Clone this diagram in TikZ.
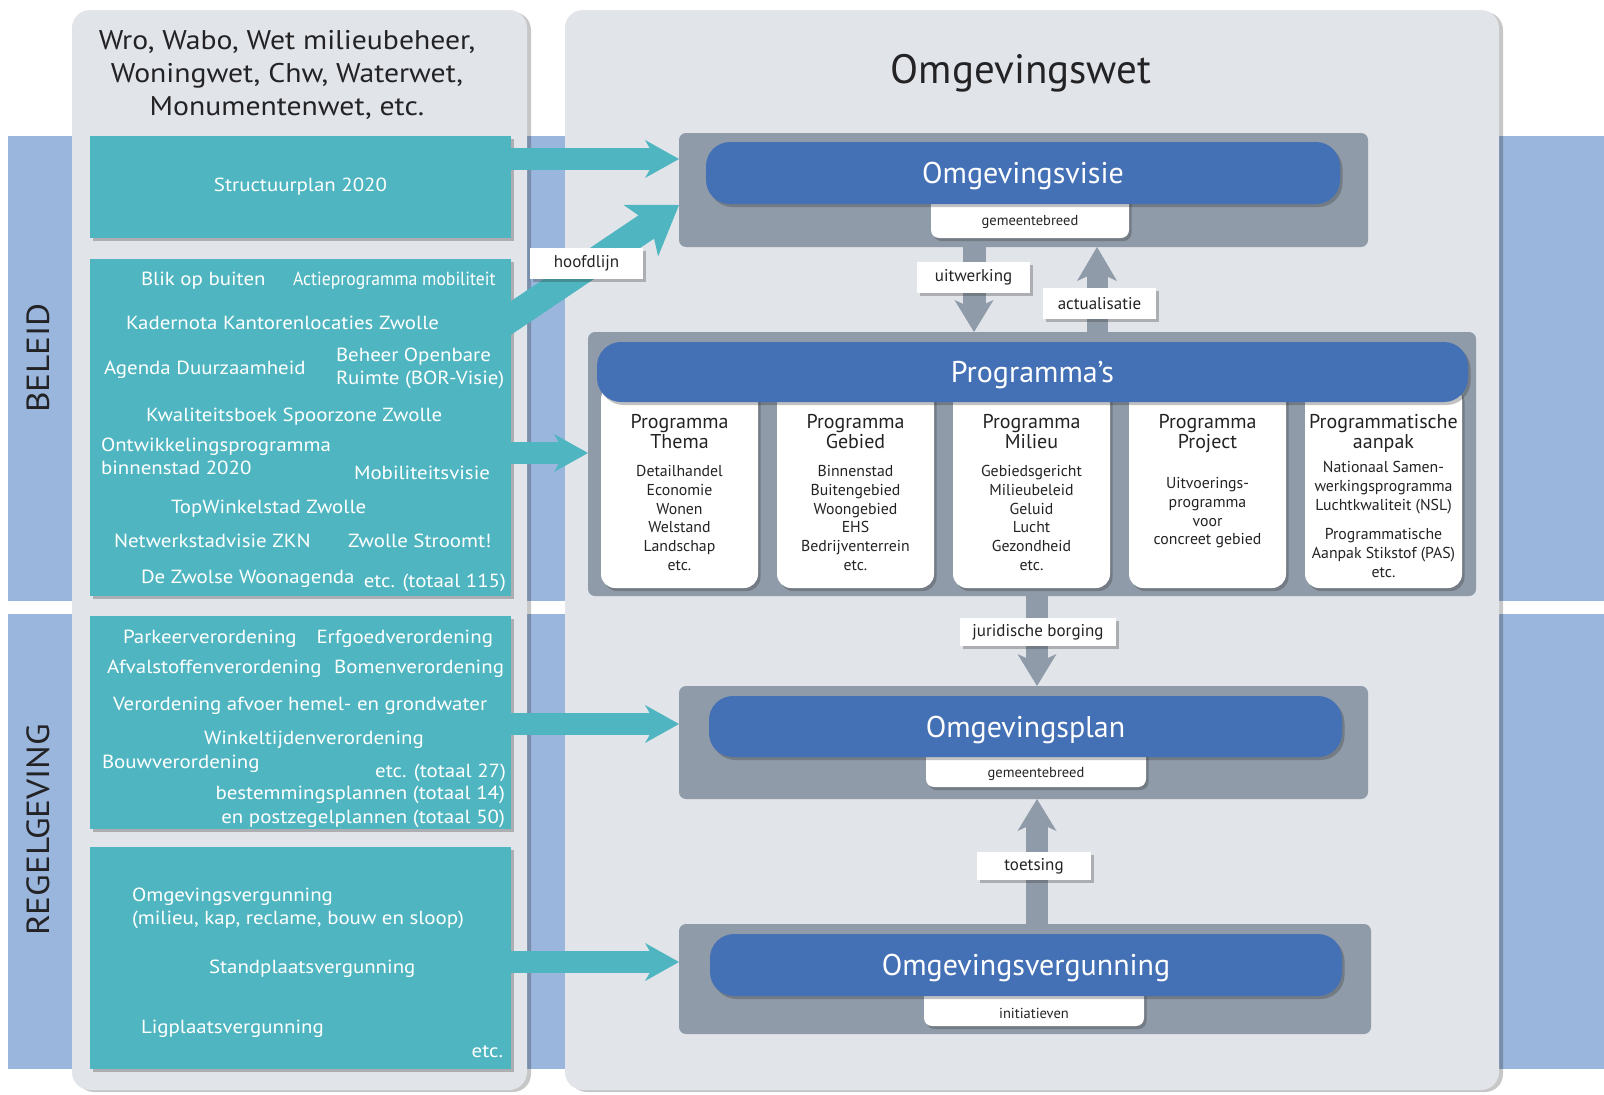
\documentclass[tikz,border=0pt]{standalone}
\usepackage{fontspec}
\setmainfont{PT Sans}
\newfontfamily\widefont{PT Sans}[FakeStretch=1.1]
\usepackage{graphicx}
\usetikzlibrary{arrows.meta,shadows,calc}
\definecolor{bandblue}{RGB}{155,182,220}
\definecolor{panelgrey}{RGB}{225,228,233}
\definecolor{tealc}{RGB}{79,182,193}
\definecolor{boxgrey}{RGB}{143,155,168}
\definecolor{barblue}{RGB}{68,112,181}
\definecolor{txtdark}{RGB}{35,35,38}
\newcommand\fz[2]{\fontsize{#1}{#2}\selectfont}
\begin{document}
\begin{tikzpicture}[x=1pt,y=-1pt,
  every node/.style={inner sep=0pt,outer sep=0pt},
  shd/.style={drop shadow={shadow xshift=2.5pt,shadow yshift=-3pt,opacity=0.3,fill=black!80}},
  panel/.style={fill=panelgrey,rounded corners=18pt,drop shadow={shadow xshift=4pt,shadow yshift=-2pt,opacity=0.22,fill=black}},
  tealbox/.style={fill=tealc,shd},
  greybox/.style={fill=boxgrey,rounded corners=7pt},
  bar/.style={fill=barblue,rounded corners=24pt,shd,text=white,font=\fz{30}{36},text height=21pt,text depth=0pt},
  tab/.style={fill=white,rounded corners=8pt,shd},
  card/.style={fill=white,rounded corners=14pt,shd},
  lbl/.style={fill=white,shd,font=\fz{17}{20},text=txtdark},
  ttxt/.style={text=white,font=\widefont\fz{19}{23}},
  ctitle/.style={text=txtdark,font=\fz{20}{20},align=center,anchor=north},
  cbody/.style={text=txtdark,font=\fz{15.8}{18.7},align=center,anchor=north},
  tabtxt/.style={text=txtdark,font=\fz{14.5}{16}},
  tarrow/.style={draw=tealc,line width=22pt,-{Stealth[length=34pt,width=38pt,inset=11pt,line width=0pt]}},
  garrow/.style={draw=boxgrey,line width=22pt,-{Stealth[length=32pt,width=39pt,inset=9pt,line width=0pt]}},
  bandlbl/.style={text=txtdark,font=\widefont\fz{32}{36},rotate=90}
]
\useasboundingbox (0,0) rectangle (1604,1095);
\fill[white] (0,0) rectangle (1604,1095);
% bands
\fill[bandblue] (8,136) rectangle (1604,601);
\fill[bandblue] (8,614) rectangle (1604,1069);
\node[bandlbl] (beleid) at (38,358) {BELEID};
\node[bandlbl] (regel) at (38,830) {REGELGEVING};
% panels
\node[panel,minimum width=455pt,minimum height=1080pt] (lpanel) at (299.5,550) {};
\node[panel,minimum width=934pt,minimum height=1080pt] (rpanel) at (1032,550) {};
% left title
\node[anchor=north,align=center,font=\widefont\fz{27}{33},text=txtdark] (lawtitle) at (287,30) {Wro, Wabo, Wet milieubeheer,\\Woningwet, Chw, Waterwet,\\Monumentenwet, etc.};
% teal boxes
\node[tealbox,minimum width=421pt,minimum height=102pt,text=white,font=\widefont\fz{19}{23}] (boxA) at (300.5,187) {Structuurplan 2020};
\node[tealbox,minimum width=421pt,minimum height=337pt] (boxB) at (300.5,427.5) {};
\node[tealbox,minimum width=421pt,minimum height=213pt] (boxC) at (300.5,722.5) {};
\node[tealbox,minimum width=421pt,minimum height=222pt] (boxD) at (300.5,958) {};
% right side
\node[font=\fz{41}{48},text=txtdark,anchor=base] (owtitle) at (1021,83) {Omgevingswet};
\node[greybox,minimum width=689pt,minimum height=114pt] (visieGrey) at (1023.5,190) {};
\node[greybox,minimum width=888pt,minimum height=264pt] (progGrey) at (1032,464) {};
\node[greybox,minimum width=689pt,minimum height=113pt] (planGrey) at (1023.5,742.5) {};
\node[greybox,minimum width=692pt,minimum height=110pt] (vergGrey) at (1025,979) {};
% tabs
\node[tab,minimum width=198pt,minimum height=48pt] (visieTab) at (1030,214) {};
\node[tab,minimum width=220pt,minimum height=47pt] (planTab) at (1036,763.5) {};
\node[tab,minimum width=220pt,minimum height=47pt] (vergTab) at (1034,1002.5) {};
\node[tabtxt] (visieTabTxt) at (1030,222) {gemeentebreed};
\node[tabtxt] (planTabTxt) at (1036,774) {gemeentebreed};
\node[tabtxt] (vergTabTxt) at (1034,1013) {initiatieven};
% cards
\foreach \i/\cx in {1/679.5,2/855.5,3/1031.5,4/1207.5,5/1383.5}
  \node[card,minimum width=157pt,minimum height=203pt] (card\i) at (\cx,486.5) {};
% bars
\node[bar,minimum width=634pt,minimum height=62pt] (visieBar) at (1023,173) {Omgevingsvisie};
\node[bar,minimum width=871pt,minimum height=60pt] (progBar) at (1032.5,372) {Programma’s};
\node[bar,minimum width=633pt,minimum height=61pt] (planBar) at (1025.5,726.5) {Omgevingsplan};
\node[bar,minimum width=632pt,minimum height=62pt] (vergBar) at (1026,965) {Omgevingsvergunning};
% card texts
\node[ctitle] (c1t) at (679.5,414.5) {Programma\\Thema};
\node[cbody] (c1b) at (679.5,465.5) {Detailhandel\\Economie\\Wonen\\Welstand\\Landschap\\etc.};
\node[ctitle] (c2t) at (855.5,414.5) {Programma\\Gebied};
\node[cbody] (c2b) at (855.5,465.5) {Binnenstad\\Buitengebied\\Woongebied\\EHS\\Bedrijventerrein\\etc.};
\node[ctitle] (c3t) at (1031.5,414.5) {Programma\\Milieu};
\node[cbody] (c3b) at (1031.5,465.5) {Gebiedsgericht\\Milieubeleid\\Geluid\\Lucht\\Gezondheid\\etc.};
\node[ctitle] (c4t) at (1207.5,414.5) {Programma\\Project};
\node[cbody] (c4b) at (1207.5,477.5) {Uitvoerings-\\programma\\voor\\concreet gebied};
\node[ctitle] (c5t) at (1383.5,414.5) {Programmatische\\aanpak};
\node[cbody] (c5b) at (1383.5,461.5) {Nationaal Samen-\\werkingsprogramma\\Luchtkwaliteit (NSL)\\[11pt]Programmatische\\Aanpak Stikstof (PAS)\\etc.};
% teal arrows
\draw[tarrow] (boxA.east |- 0,159) -- (visieGrey.west |- 0,159);
\draw[tarrow,line width=28pt,-{Stealth[length=46pt,width=62pt,inset=12pt,line width=0pt]}] ($(boxB.north east)+(-12,67)$) -- (visieGrey.west |- 0,205);
\draw[tarrow] (boxB.east |- 0,453) -- (progGrey.west |- 0,453);
\draw[tarrow] (boxC.east |- 0,724) -- (planGrey.west |- 0,724);
\draw[tarrow] (boxD.east |- 0,962) -- (vergGrey.west |- 0,962);
% grey arrows
\draw[garrow,line width=23pt] (974,0 |- visieGrey.south) -- (974,0 |- progGrey.north);
\draw[garrow,line width=21pt,-{Stealth[length=34pt,width=40pt,inset=9pt,line width=0pt]}] (1097,0 |- progGrey.north) -- (1097,0 |- visieGrey.south);
\draw[garrow] (1037,0 |- progGrey.south) -- (1037,0 |- planGrey.north);
\draw[garrow] (1037,0 |- vergGrey.north) -- (1037,0 |- planGrey.south);
% labels
\node[lbl,minimum width=113pt,minimum height=31pt] (hoofdlijn) at (586.5,263.5) {hoofdlijn};
\node[lbl,minimum width=113pt,minimum height=31pt] (uitwerking) at (973.5,277.5) {uitwerking};
\node[lbl,minimum width=113pt,minimum height=31pt] (actualisatie) at (1099.5,303.5) {actualisatie};
\node[lbl,minimum width=156pt,minimum height=28pt] (juridisch) at (1038,632) {juridische borging};
\node[lbl,minimum width=114pt,minimum height=28pt] (toetsing) at (1034,866) {toetsing};
% box B texts
\node[ttxt,anchor=base west] (b1) at (141,285) {Blik op buiten};
\node[ttxt,anchor=base west] (b2) at (293,285) {\scalebox{0.845}[1]{Actieprogramma mobiliteit}};
\node[ttxt,anchor=base west] (b3) at (126,329) {Kadernota Kantorenlocaties Zwolle};
\node[ttxt,anchor=base west] (b4) at (104,374) {Agenda Duurzaamheid};
\node[ttxt,anchor=north west,align=left] (b5) at (336,348) {Beheer Openbare\\Ruimte (BOR-Visie)};
\node[ttxt,anchor=base west] (b6) at (146,421) {Kwaliteitsboek Spoorzone Zwolle};
\node[ttxt,anchor=north west,align=left] (b7) at (101,438) {Ontwikkelingsprogramma\\binnenstad 2020};
\node[ttxt,anchor=base west] (b8) at (354,479) {Mobiliteitsvisie};
\node[ttxt,anchor=base west] (b9) at (171,513) {TopWinkelstad Zwolle};
\node[ttxt,anchor=base west] (b10) at (114,547) {Netwerkstadvisie ZKN};
\node[ttxt,anchor=base west] (b11) at (348,547) {Zwolle Stroomt!};
\node[ttxt,anchor=base west] (b12) at (141,583) {De Zwolse Woonagenda};
\node[ttxt,anchor=base east] (b13) at (506,587) {etc. (totaal 115)};
% box C texts
\node[ttxt,anchor=base west] (c1) at (123,643) {Parkeerverordening};
\node[ttxt,anchor=base east] (c2) at (493,643) {Erfgoedverordening};
\node[ttxt,anchor=base west] (c3) at (107,673) {Afvalstoffenverordening};
\node[ttxt,anchor=base east] (c4) at (504,673) {Bomenverordening};
\node[ttxt,anchor=base west] (c5) at (113,710) {Verordening afvoer hemel- en grondwater};
\node[ttxt,anchor=base west] (c6) at (204,744) {Winkeltijdenverordening};
\node[ttxt,anchor=base west] (c7) at (102,768) {Bouwverordening};
\node[ttxt,anchor=base east] (c8) at (506,777) {etc. (totaal 27)};
\node[ttxt,anchor=north east,align=right,font=\widefont\fz{19}{24}] (c9) at (505,786) {bestemmingsplannen (totaal 14)\\en postzegelplannen (totaal 50)};
% box D texts
\node[ttxt,anchor=north west,align=left] (d1) at (132,888) {Omgevingsvergunning\\(milieu, kap, reclame, bouw en sloop)};
\node[ttxt,anchor=base west] (d2) at (209,973) {Standplaatsvergunning};
\node[ttxt,anchor=base west] (d3) at (141,1033) {Ligplaatsvergunning};
\node[ttxt,anchor=base east] (d4) at (503,1057) {etc.};
\end{tikzpicture}
\end{document}
